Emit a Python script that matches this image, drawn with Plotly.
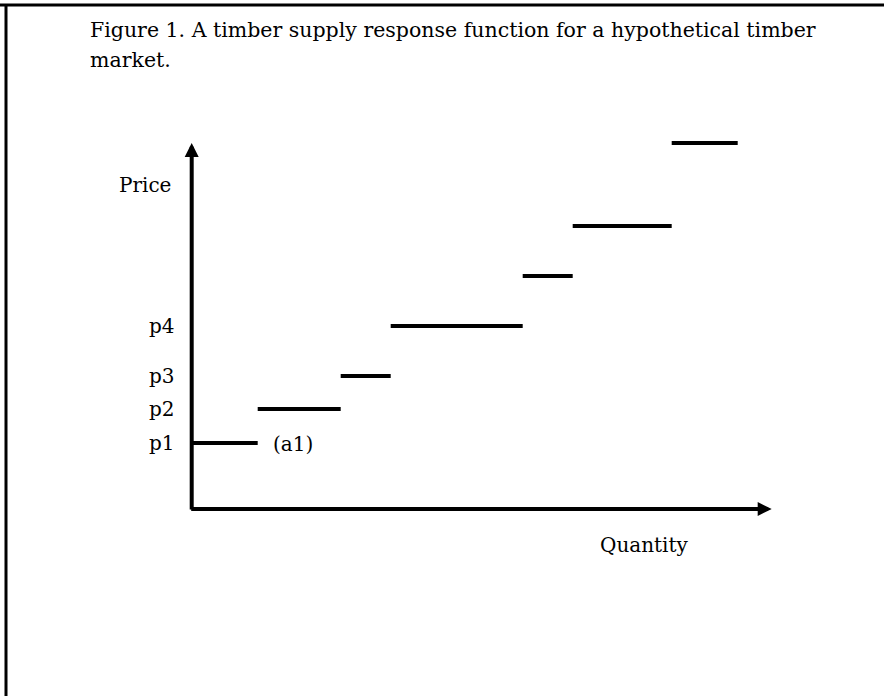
import plotly.graph_objects as go

# ---- data ----
q_breaks = [0, 6.6, 14.9, 19.9, 33.1, 38.1, 48.0, 54.6]      # quantity breakpoints of the steps
prices = [6.6, 10.0, 13.3, 18.3, 23.3, 28.3, 36.6]             # price level of each step
price_labels = ["p1", "p2", "p3", "p4"]
x_axis_end = 58.0
y_axis_end = 36.6
title_lines = ["Figure 1. A timber supply response function for a hypothetical timber",
               "market."]

W, H = 884, 696
FONT = "DejaVu Serif"
FS = 20

# build step segments
xs, ys = [], []
for i, p in enumerate(prices):
    xs += [q_breaks[i], q_breaks[i + 1], None]
    ys += [p, p, None]

fig = go.Figure()
fig.add_trace(go.Scatter(x=xs, y=ys, mode="lines",
                         line=dict(color="black", width=4),
                         hoverinfo="skip", showlegend=False))

ann = []
# axes with arrowheads
ann.append(dict(x=0, y=y_axis_end, ax=0, ay=-0.2, xref="x", yref="y", axref="x", ayref="y",
                showarrow=True, arrowhead=2, arrowsize=0.7, arrowwidth=4, arrowcolor="black", text=""))
ann.append(dict(x=x_axis_end, y=0, ax=-0.2, ay=0, xref="x", yref="y", axref="x", ayref="y",
                showarrow=True, arrowhead=2, arrowsize=0.7, arrowwidth=4, arrowcolor="black", text=""))
# price labels
for lab, p in zip(price_labels, prices):
    ann.append(dict(x=-1.45, y=p, xref="x", yref="y", text=lab, showarrow=False,
                    xanchor="right", yanchor="middle", font=dict(family=FONT, size=FS, color="black")))
ann.append(dict(x=-1.9, y=32.4, xref="x", yref="y", text="Price", showarrow=False,
                xanchor="right", yanchor="middle", font=dict(family=FONT, size=FS, color="black")))
ann.append(dict(x=q_breaks[1] + 1.3, y=prices[0] - 0.1, xref="x", yref="y", text="(a1)", showarrow=False,
                xanchor="left", yanchor="middle", font=dict(family=FONT, size=FS, color="black")))
ann.append(dict(x=40.6, y=-3.6, xref="x", yref="y", text="Quantity", showarrow=False,
                xanchor="left", yanchor="middle", font=dict(family=FONT, size=FS, color="black")))
# title, two lines
for i, line in enumerate(title_lines):
    ann.append(dict(x=88 / W, y=1 - (16 + 30 * i) / H, xref="paper", yref="paper", text=line,
                    showarrow=False, xanchor="left", yanchor="top", align="left",
                    font=dict(family=FONT, size=20.5, color="black")))

fig.update_layout(
    width=W, height=H,
    margin=dict(l=0, r=0, t=0, b=0),
    paper_bgcolor="white", plot_bgcolor="white",
    xaxis=dict(range=[-19.17, 69.23], visible=False, fixedrange=True),
    yaxis=dict(range=[-18.7, 50.9], visible=False, fixedrange=True),
    annotations=ann,
    shapes=[
        dict(type="line", xref="paper", yref="paper", x0=0, x1=1, y0=1 - 5 / H, y1=1 - 5 / H,
             line=dict(color="black", width=3)),
        dict(type="line", xref="paper", yref="paper", x0=6 / W, x1=6 / W, y0=0, y1=1 - 5 / H,
             line=dict(color="black", width=3)),
    ],
)

fig.write_html("out.html", config={"displayModeBar": False},
               post_script="document.body.style.margin='0';")
